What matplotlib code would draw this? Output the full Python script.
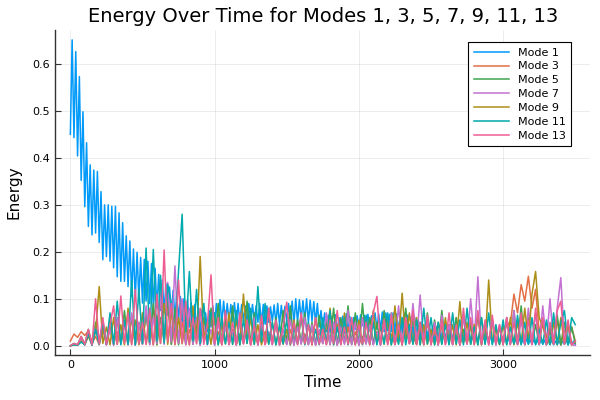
import numpy as np
import matplotlib
matplotlib.use("Agg")
import matplotlib.pyplot as plt

# energia por modo, en milesimas (leido a ojo de la figura)
# modo 1: muestreado cada 12.5 unidades de tiempo (valle, pico, valle, ...)
modo_1 = [
    450, 651, 443, 626, 404, 573, 352, 498, 296, 432, 254, 385, 236, 374, 240, 371, 220, 328, 183, 300,
    190, 300, 180, 297, 166, 297, 147, 283, 137, 262, 137, 234, 126, 223, 105, 206, 98, 199, 98, 188,
    91, 184, 95, 180, 90, 175, 85, 165, 80, 152, 75, 140, 70, 132, 65, 125, 62, 118, 58, 110,
    55, 105, 50, 100, 45, 98, 40, 92, 35, 88, 30, 80, 25, 77, 22, 70, 30, 75, 40, 85,
    45, 90, 50, 98, 48, 95, 50, 90, 52, 88, 50, 92, 48, 90, 50, 88, 52, 85, 48, 90,
    50, 88, 52, 85, 50, 90, 48, 88, 46, 85, 50, 83, 52, 87, 48, 90, 45, 86, 50, 84,
    52, 90, 50, 95, 48, 100, 50, 98, 55, 96, 53, 100, 50, 97, 52, 94, 48, 90, 40, 75,
    35, 70, 30, 65, 28, 62, 27, 66, 30, 60, 28, 63, 27, 68, 30, 62, 32, 60, 35, 64,
    40, 66, 43, 65, 42, 67, 40, 64, 38, 70, 35, 68, 33, 72, 30, 70, 32, 67, 30, 70,
    28, 68, 30, 66, 27, 70, 25, 65, 24, 62, 22, 60, 20, 55, 18, 50, 16, 48, 15, 45,
    14, 42, 15, 40, 13, 44, 12, 40, 12, 38, 10, 36, 11, 35, 10, 33, 9, 30, 8, 32,
    9, 30, 8, 28, 7, 26, 8, 27, 6, 25, 7, 24, 6, 22, 5, 20, 6, 21, 5, 19,
    4, 18, 5, 17, 4, 16, 4, 15, 3, 16, 4, 14, 3, 15, 4, 13, 3, 14, 3, 12,
    2, 13, 3, 12, 2, 11, 3, 12, 2, 10, 2, 11, 2, 10, 3, 12, 2, 11, 2, 10,
    3,
]

# modos 3..13: muestreados cada 25 unidades de tiempo
modo_3 = [
    10, 25, 18, 30, 22, 32, 5, 20, 2, 35, 4, 40, 3, 30, 6, 48, 2, 60, 5, 25,
    3, 70, 5, 85, 2, 110, 8, 95, 3, 60, 5, 50, 2, 35, 10, 55, 4, 40, 3, 65,
    5, 30, 2, 45, 8, 35, 3, 25, 6, 50, 2, 30, 4, 40, 3, 28, 5, 45, 2, 22,
    4, 35, 2, 50, 6, 25, 3, 40, 2, 30, 5, 45, 3, 35, 2, 25, 6, 40, 3, 30,
    2, 20, 5, 40, 3, 30, 2, 55, 6, 25, 3, 35, 2, 45, 5, 20, 3, 40, 2, 50,
    4, 30, 2, 45, 6, 35, 3, 60, 2, 25, 5, 40, 3, 65, 2, 45, 6, 55, 3, 40,
    8, 50, 45, 110, 70, 130, 95, 148, 80, 120, 30, 55, 5, 30, 3, 55, 2, 35, 5, 40,
    10,
]
modo_5 = [
    0, 5, 2, 20, 3, 35, 2, 50, 5, 45, 3, 60, 2, 55, 6, 75, 3, 65, 2, 50,
    5, 70, 3, 90, 2, 60, 8, 105, 3, 80, 2, 95, 5, 70, 3, 50, 2, 60, 4, 80,
    2, 90, 5, 60, 3, 85, 2, 55, 6, 95, 3, 70, 2, 50, 5, 80, 3, 60, 2, 75,
    4, 85, 2, 55, 5, 70, 3, 50, 2, 65, 6, 55, 3, 80, 2, 60, 5, 85, 3, 70,
    2, 90, 5, 60, 3, 50, 2, 75, 6, 70, 3, 40, 2, 80, 5, 60, 3, 50, 2, 70,
    4, 55, 2, 75, 6, 45, 3, 60, 2, 35, 5, 50, 3, 70, 2, 45, 6, 55, 3, 40,
    2, 60, 5, 75, 3, 85, 2, 60, 5, 45, 3, 55, 2, 40, 4, 65, 2, 50, 3, 40,
    5,
]
modo_7 = [
    0, 3, 1, 15, 2, 25, 1, 40, 3, 55, 2, 35, 1, 60, 4, 45, 2, 70, 1, 50,
    3, 85, 2, 60, 5, 110, 3, 135, 8, 170, 5, 100, 2, 80, 3, 60, 1, 45, 2, 35,
    1, 50, 3, 40, 2, 30, 1, 55, 4, 40, 2, 60, 1, 45, 3, 30, 2, 50, 1, 35,
    2, 55, 1, 40, 3, 60, 2, 45, 1, 35, 4, 70, 2, 50, 1, 40, 3, 75, 2, 50,
    1, 60, 3, 45, 2, 30, 1, 55, 4, 70, 2, 85, 3, 60, 5, 90, 8, 108, 4, 60,
    2, 50, 1, 65, 3, 45, 2, 35, 1, 60, 3, 100, 10, 147, 6, 40, 2, 55, 1, 45,
    3, 60, 2, 75, 4, 55, 2, 80, 5, 70, 3, 85, 6, 100, 4, 80, 145, 8, 40, 2,
    1,
]
modo_9 = [
    0, 2, 1, 10, 2, 20, 3, 30, 126, 5, 40, 2, 60, 3, 45, 2, 80, 4, 55, 2,
    70, 3, 50, 2, 65, 5, 90, 3, 75, 2, 60, 4, 50, 2, 85, 6, 190, 10, 50, 3,
    60, 2, 45, 4, 70, 3, 55, 2, 110, 5, 60, 3, 45, 2, 30, 4, 50, 2, 40, 3,
    35, 2, 55, 4, 65, 3, 45, 2, 60, 5, 35, 3, 80, 2, 45, 4, 70, 3, 40, 2,
    55, 3, 60, 2, 75, 4, 40, 3, 55, 2, 85, 5, 112, 8, 70, 4, 60, 2, 45, 3,
    35, 2, 50, 4, 60, 3, 45, 2, 94, 5, 50, 3, 45, 2, 60, 4, 140, 8, 35, 2,
    45, 3, 60, 2, 50, 5, 80, 10, 110, 158, 60, 40, 20, 3, 50, 2, 60, 4, 45, 2,
    10,
]
modo_11 = [
    0, 2, 1, 8, 2, 25, 1, 35, 3, 50, 2, 70, 4, 95, 2, 55, 3, 140, 2, 120,
    5, 208, 8, 205, 10, 150, 6, 130, 90, 15, 160, 280, 30, 158, 10, 120, 5, 90, 3, 70,
    70, 2, 60, 4, 50, 3, 75, 2, 55, 5, 80, 3, 126, 8, 90, 3, 50, 2, 45, 4,
    55, 2, 40, 3, 65, 2, 50, 4, 35, 2, 60, 3, 75, 2, 40, 3, 60, 2, 45, 3,
    40, 2, 65, 3, 50, 2, 45, 4, 70, 2, 35, 3, 60, 2, 45, 3, 55, 2, 80, 4,
    60, 2, 50, 3, 45, 2, 70, 4, 55, 2, 80, 3, 40, 2, 60, 3, 70, 2, 45, 3,
    55, 2, 40, 4, 65, 2, 50, 3, 60, 2, 35, 4, 55, 2, 70, 3, 50, 75, 2, 60,
    45,
]
modo_13 = [
    0, 5, 2, 20, 3, 35, 2, 100, 4, 60, 2, 45, 85, 3, 106, 5, 70, 2, 120, 4,
    50, 3, 80, 2, 110, 5, 204, 8, 90, 3, 140, 6, 95, 2, 60, 4, 80, 3, 45, 151,
    5, 60, 2, 75, 3, 50, 2, 70, 4, 55, 2, 45, 3, 65, 2, 80, 4, 55, 2, 40,
    93, 3, 50, 2, 70, 4, 45, 2, 60, 3, 35, 2, 55, 4, 75, 2, 40, 3, 60, 2,
    45, 3, 50, 2, 70, 105, 4, 55, 2, 65, 3, 45, 2, 60, 4, 75, 2, 50, 3, 65,
    2, 40, 4, 55, 2, 70, 3, 45, 2, 80, 4, 60, 2, 75, 3, 55, 2, 65, 4, 45,
    2, 60, 3, 50, 2, 70, 4, 55, 2, 80, 3, 60, 2, 50, 4, 75, 95, 3, 55, 2,
    10,
]

modos = [1, 3, 5, 7, 9, 11, 13]
series = [modo_1, modo_3, modo_5, modo_7, modo_9, modo_11, modo_13]
colores = ["#009AFA", "#E36F47", "#3EA44E", "#C371D2", "#AC8E18", "#00AAAE", "#ED5E93"]
t_final = 3500

fig = plt.figure(figsize=(6, 4), dpi=100)
ax = fig.add_axes([0.092, 0.1125, 0.892, 0.8125])

for modo, valores, color in zip(modos, series, colores):
    energia = np.array(valores) / 1000
    tiempo = np.linspace(0, t_final, len(energia))
    ax.plot(tiempo, energia, color=color, lw=1.1, label=f"Mode {modo}")

ax.set_xlim(-105, 3605)
ax.set_ylim(-0.0196, 0.672)
ax.set_xticks([0, 1000, 2000, 3000])
ax.set_yticks([0.0, 0.1, 0.2, 0.3, 0.4, 0.5, 0.6])
ax.set_yticklabels(["0.0", "0.1", "0.2", "0.3", "0.4", "0.5", "0.6"])
ax.grid(True, color="black", alpha=0.1, lw=0.5)
ax.spines["top"].set_visible(False)
ax.spines["right"].set_visible(False)
for s in ("left", "bottom"):
    ax.spines[s].set_color("#333333")
    ax.spines[s].set_linewidth(1.0)
ax.tick_params(direction="in", length=4, labelsize=8, colors="#333333", labelcolor="black")

ax.set_title("Energy Over Time for Modes 1, 3, 5, 7, 9, 11, 13", fontsize=14)
ax.set_xlabel("Time", fontsize=11)
ax.set_ylabel("Energy", fontsize=11, labelpad=8)

leg = ax.legend(loc="upper right", bbox_to_anchor=(0.9645, 0.963), borderaxespad=0,
                fontsize=8, handlelength=3.2, fancybox=False, framealpha=1,
                edgecolor="black", labelspacing=0.35, borderpad=0.5)
leg.get_frame().set_linewidth(0.8)

plt.savefig("out.png", dpi=100)
